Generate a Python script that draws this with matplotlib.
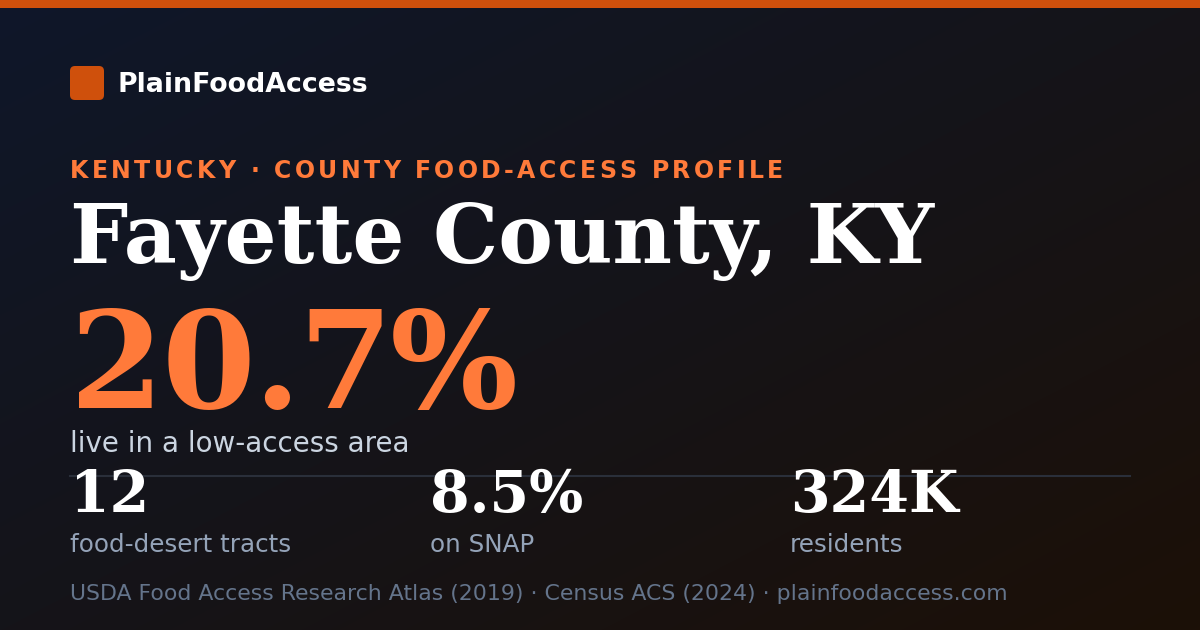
import matplotlib
matplotlib.use("Agg")
import matplotlib.pyplot as plt
import numpy as np
from matplotlib.colors import LinearSegmentedColormap
from matplotlib.patches import FancyBboxPatch, Rectangle

brand = "PlainFoodAccess"
kicker = "KENTUCKY · COUNTY FOOD-ACCESS PROFILE"
county = "Fayette County, KY"
low_access_pct = 20.7
headline_label = "live in a low-access area"
stat_values = ["12", "8.5%", "324K"]
stat_labels = ["food-desert tracts", "on SNAP", "residents"]
source_note = "USDA Food Access Research Atlas (2019) · Census ACS (2024) · plainfoodaccess.com"

ORANGE = "#ff7a3a"
ACCENT = "#cf500c"
SERIF = dict(family="DejaVu Serif", fontweight="bold")

fig = plt.figure(figsize=(12, 6.3), dpi=100)
ax = fig.add_axes([0, 0, 1, 1])
ax.set_xlim(0, 1200)
ax.set_ylim(630, 0)
ax.axis("off")

# diagonal background gradient
yy, xx = np.mgrid[0:630, 0:1200]
t = (xx / 1200 + yy / 630) / 2
bg = LinearSegmentedColormap.from_list("bg", ["#0f172a", "#151419", "#1c1007"])
ax.imshow(bg(t), extent=(0, 1200, 630, 0), aspect="auto", zorder=0)

ax.add_patch(Rectangle((0, 0), 1200, 8, color=ACCENT, lw=0, zorder=1))
ax.add_patch(FancyBboxPatch((70, 66), 34, 34, boxstyle="round,pad=0,rounding_size=5",
                            color=ACCENT, lw=0, zorder=1))
ax.text(118, 92, brand, color="white", fontsize=19.3, fontweight="bold",
        family="DejaVu Sans", va="baseline", zorder=2)


def spaced_text(x, y, s, width, **kw):
    # matplotlib has no letter-spacing, so place glyphs one by one
    renderer = fig.canvas.get_renderer()
    widths = []
    for ch in s:
        tmp = ax.text(0, 0, ch.replace(" ", "\u00a0"), **kw)
        widths.append(tmp.get_window_extent(renderer).width)
        tmp.remove()
    gap = (width - sum(widths)) / max(len(s) - 1, 1)
    cx = x
    for ch, w in zip(s, widths):
        ax.text(cx, y, ch, va="baseline", zorder=2, **kw)
        cx += w + gap


spaced_text(70, 178, kicker, 713, color=ORANGE, fontsize=17, fontweight="bold",
            family="DejaVu Sans")

ax.text(70, 263, county, color="white", fontsize=59, va="baseline", zorder=2, **SERIF)
# the big figure is set slightly tight in the reference
spaced_text(70, 408, f"{low_access_pct}%", 448, color=ORANGE, fontsize=97, **SERIF)
ax.text(70, 452, headline_label, color="#cbd5e1", fontsize=20,
        family="DejaVu Sans", va="baseline", zorder=2)

ax.plot([70, 1130], [476, 476], color="#2a2f3a", lw=1.5, zorder=1)

for i, (val, lab) in enumerate(zip(stat_values, stat_labels)):
    x = 70 + i * 360
    ax.text(x, 512, val, color="white", fontsize=41, va="baseline", zorder=2, **SERIF)
    ax.text(x, 552, lab, color="#94a3b8", fontsize=17.7,
            family="DejaVu Sans", va="baseline", zorder=2)

ax.text(70, 600, source_note, color="#64748b", fontsize=15.8,
        family="DejaVu Sans", va="baseline", zorder=2)

fig.savefig("out.png", dpi=100, facecolor=fig.get_facecolor())
